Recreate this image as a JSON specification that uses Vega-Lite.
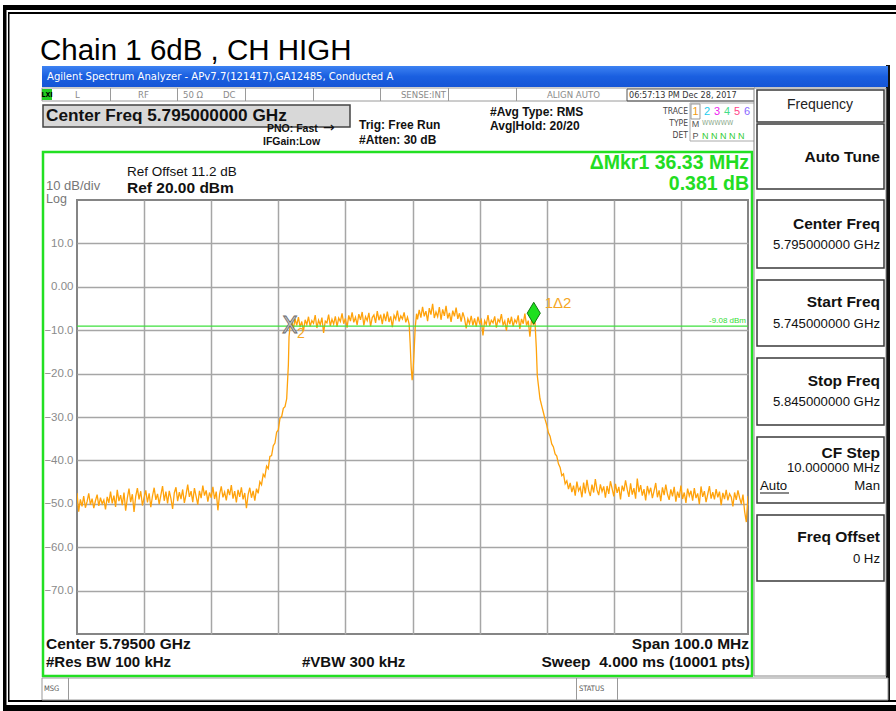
{
"$schema":"https://vega.github.io/schema/vega-lite/v6.json",
"width":671,"height":434,
"autosize":{"type":"none"},
"padding":{"left":77,"top":200,"right":148,"bottom":77},
"background":"white",
"config":{"view":{"stroke":"#858585","strokeWidth":2},"font":"Liberation Sans"},
"datasets":{
"one":[{}],
"ref":[{"a":-9.08}],
"markers":[{"id":"2","f":5776.74,"a":-9.0},{"id":"1","f":5813.07,"a":-8.62}],
"trace":[
{"f":5745,"a":-47.5},{"f":5745.25,"a":-51.8},{"f":5745.5,"a":-49.0},{"f":5745.75,"a":-50.6},{"f":5746,"a":-48.2},{"f":5746.25,"a":-50.9},{"f":5746.5,"a":-49.5},{"f":5746.75,"a":-47.6},{"f":5747,"a":-50.2},{"f":5747.25,"a":-48.8},{"f":5747.5,"a":-51.0},{"f":5747.75,"a":-49.3},{"f":5748,"a":-47.9},{"f":5748.25,"a":-50.5},{"f":5748.5,"a":-48.6},{"f":5748.75,"a":-50.0},{"f":5749,"a":-49.1},{"f":5749.25,"a":-51.3},{"f":5749.5,"a":-48.4},{"f":5749.75,"a":-49.8},{"f":5750,"a":-47.2},{"f":5750.25,"a":-49.9},{"f":5750.5,"a":-48.1},{"f":5750.75,"a":-50.7},{"f":5751,"a":-46.8},{"f":5751.25,"a":-49.4},{"f":5751.5,"a":-48.0},{"f":5751.75,"a":-50.3},{"f":5752,"a":-47.4},{"f":5752.25,"a":-51.6},{"f":5752.5,"a":-48.7},{"f":5752.75,"a":-46.5},{"f":5753,"a":-49.6},{"f":5753.25,"a":-47.8},{"f":5753.5,"a":-51.9},{"f":5753.75,"a":-48.3},{"f":5754,"a":-46.4},{"f":5754.25,"a":-49.0},{"f":5754.5,"a":-47.1},{"f":5754.75,"a":-50.4},{"f":5755,"a":-48.5},{"f":5755.25,"a":-46.9},{"f":5755.5,"a":-49.7},{"f":5755.75,"a":-47.6},{"f":5756,"a":-50.8},{"f":5756.25,"a":-48.2},{"f":5756.5,"a":-46.3},{"f":5756.75,"a":-49.1},{"f":5757,"a":-47.7},{"f":5757.25,"a":-50.1},{"f":5757.5,"a":-48.0},{"f":5757.75,"a":-45.9},{"f":5758,"a":-49.3},{"f":5758.25,"a":-47.2},{"f":5758.5,"a":-49.9},{"f":5758.75,"a":-47.0},{"f":5759,"a":-48.8},{"f":5759.25,"a":-51.2},{"f":5759.5,"a":-47.5},{"f":5759.75,"a":-46.2},{"f":5760,"a":-49.4},{"f":5760.25,"a":-47.3},{"f":5760.5,"a":-48.9},{"f":5760.75,"a":-46.7},{"f":5761,"a":-49.8},{"f":5761.25,"a":-47.9},{"f":5761.5,"a":-45.6},{"f":5761.75,"a":-48.4},{"f":5762,"a":-47.1},{"f":5762.25,"a":-49.6},{"f":5762.5,"a":-46.4},{"f":5762.75,"a":-48.3},{"f":5763,"a":-50.2},{"f":5763.25,"a":-47.0},{"f":5763.5,"a":-48.7},{"f":5763.75,"a":-45.8},{"f":5764,"a":-48.1},{"f":5764.25,"a":-46.9},{"f":5764.5,"a":-49.5},{"f":5764.75,"a":-47.4},{"f":5765,"a":-48.6},{"f":5765.25,"a":-46.1},{"f":5765.5,"a":-48.9},{"f":5765.75,"a":-47.2},{"f":5766,"a":-51.5},{"f":5766.25,"a":-47.8},{"f":5766.5,"a":-46.0},{"f":5766.75,"a":-48.5},{"f":5767,"a":-47.3},{"f":5767.25,"a":-49.2},{"f":5767.5,"a":-46.6},{"f":5767.75,"a":-48.0},{"f":5768,"a":-45.7},{"f":5768.25,"a":-48.8},{"f":5768.5,"a":-47.1},{"f":5768.75,"a":-49.7},{"f":5769,"a":-46.8},{"f":5769.25,"a":-48.4},{"f":5769.5,"a":-46.2},{"f":5769.75,"a":-49.0},{"f":5770,"a":-47.5},{"f":5770.25,"a":-51.0},{"f":5770.5,"a":-47.9},{"f":5770.75,"a":-46.3},{"f":5771,"a":-48.6},{"f":5771.25,"a":-47.0},{"f":5771.5,"a":-49.3},{"f":5771.75,"a":-46.5},{"f":5772,"a":-47.6},{"f":5772.25,"a":-44.9},{"f":5772.5,"a":-45.6},{"f":5772.75,"a":-43.2},{"f":5773,"a":-43.8},{"f":5773.25,"a":-41.3},{"f":5773.5,"a":-41.9},{"f":5773.75,"a":-39.1},{"f":5774,"a":-38.9},{"f":5774.25,"a":-36.6},{"f":5774.5,"a":-36.0},{"f":5774.75,"a":-33.5},{"f":5775,"a":-33.0},{"f":5775.25,"a":-30.3},{"f":5775.5,"a":-29.9},{"f":5775.75,"a":-28.0},{"f":5776,"a":-27.6},{"f":5776.25,"a":-25.8},{"f":5776.5,"a":-18.0},{"f":5776.6,"a":-11.5},{"f":5776.75,"a":-9.2},
{"f":5777,"a":-8.1},{"f":5777.25,"a":-9.6},{"f":5777.5,"a":-7.4},{"f":5777.75,"a":-8.9},{"f":5778,"a":-7.0},{"f":5778.25,"a":-9.3},{"f":5778.5,"a":-8.0},{"f":5778.75,"a":-10.2},{"f":5779,"a":-7.6},{"f":5779.25,"a":-8.7},{"f":5779.5,"a":-6.9},{"f":5779.75,"a":-9.1},{"f":5780,"a":-7.8},{"f":5780.25,"a":-8.4},{"f":5780.5,"a":-6.5},{"f":5780.75,"a":-9.5},{"f":5781,"a":-7.7},{"f":5781.25,"a":-8.8},{"f":5781.5,"a":-7.1},{"f":5781.75,"a":-10.6},{"f":5782,"a":-7.9},{"f":5782.25,"a":-8.3},{"f":5782.5,"a":-6.4},{"f":5782.75,"a":-9.0},{"f":5783,"a":-7.5},{"f":5783.25,"a":-8.6},{"f":5783.5,"a":-6.8},{"f":5783.75,"a":-9.2},{"f":5784,"a":-7.2},{"f":5784.25,"a":-8.0},{"f":5784.5,"a":-6.1},{"f":5784.75,"a":-8.5},{"f":5785,"a":-7.3},{"f":5785.25,"a":-9.4},{"f":5785.5,"a":-6.6},{"f":5785.75,"a":-7.9},{"f":5786,"a":-5.9},{"f":5786.25,"a":-8.2},{"f":5786.5,"a":-7.0},{"f":5786.75,"a":-8.8},{"f":5787,"a":-6.3},{"f":5787.25,"a":-7.6},{"f":5787.5,"a":-5.8},{"f":5787.75,"a":-8.9},{"f":5788,"a":-6.9},{"f":5788.25,"a":-7.8},{"f":5788.5,"a":-6.0},{"f":5788.75,"a":-9.1},{"f":5789,"a":-7.1},{"f":5789.25,"a":-6.5},{"f":5789.5,"a":-8.3},{"f":5789.75,"a":-5.6},{"f":5790,"a":-7.7},{"f":5790.25,"a":-6.4},{"f":5790.5,"a":-8.6},{"f":5790.75,"a":-6.2},{"f":5791,"a":-7.9},{"f":5791.25,"a":-5.7},{"f":5791.5,"a":-8.1},{"f":5791.75,"a":-6.8},{"f":5792,"a":-9.3},{"f":5792.25,"a":-6.6},{"f":5792.5,"a":-7.5},{"f":5792.75,"a":-5.5},{"f":5793,"a":-8.0},{"f":5793.25,"a":-6.7},{"f":5793.5,"a":-7.4},{"f":5793.75,"a":-5.9},{"f":5794,"a":-8.2},{"f":5794.25,"a":-7.0},{"f":5794.5,"a":-8.6},{"f":5794.65,"a":-13.0},{"f":5794.8,"a":-18.5},{"f":5794.95,"a":-21.5},{"f":5795.1,"a":-19.0},{"f":5795.25,"a":-14.5},{"f":5795.4,"a":-9.5},{"f":5795.6,"a":-6.2},{"f":5795.75,"a":-7.5},{"f":5796,"a":-5.3},{"f":5796.25,"a":-7.1},{"f":5796.5,"a":-4.6},{"f":5796.75,"a":-6.8},{"f":5797,"a":-5.6},{"f":5797.25,"a":-7.9},{"f":5797.5,"a":-4.9},{"f":5797.75,"a":-6.4},{"f":5798,"a":-3.9},{"f":5798.25,"a":-7.2},{"f":5798.5,"a":-5.8},{"f":5798.75,"a":-6.9},{"f":5799,"a":-4.7},{"f":5799.25,"a":-7.6},{"f":5799.5,"a":-5.2},{"f":5799.75,"a":-6.7},{"f":5800,"a":-4.4},{"f":5800.25,"a":-7.3},{"f":5800.5,"a":-6.0},{"f":5800.75,"a":-8.1},{"f":5801,"a":-5.5},{"f":5801.25,"a":-6.8},{"f":5801.5,"a":-4.8},{"f":5801.75,"a":-7.4},{"f":5802,"a":-6.1},{"f":5802.25,"a":-8.0},{"f":5802.5,"a":-5.9},{"f":5802.75,"a":-7.2},{"f":5803,"a":-9.6},{"f":5803.25,"a":-7.4},{"f":5803.5,"a":-8.5},{"f":5803.75,"a":-6.7},{"f":5804,"a":-8.9},{"f":5804.25,"a":-7.3},{"f":5804.5,"a":-9.2},{"f":5804.75,"a":-6.9},{"f":5805,"a":-8.4},{"f":5805.25,"a":-7.6},{"f":5805.5,"a":-11.2},{"f":5805.75,"a":-7.8},{"f":5806,"a":-8.7},{"f":5806.25,"a":-6.5},{"f":5806.5,"a":-9.0},{"f":5806.75,"a":-7.7},{"f":5807,"a":-8.3},{"f":5807.25,"a":-6.8},{"f":5807.5,"a":-9.4},{"f":5807.75,"a":-7.5},{"f":5808,"a":-8.1},{"f":5808.25,"a":-6.3},{"f":5808.5,"a":-8.8},{"f":5808.75,"a":-7.9},{"f":5809,"a":-10.1},{"f":5809.25,"a":-7.2},{"f":5809.5,"a":-8.6},{"f":5809.75,"a":-6.9},{"f":5810,"a":-9.1},{"f":5810.25,"a":-7.6},{"f":5810.5,"a":-8.3},{"f":5810.75,"a":-6.6},{"f":5811,"a":-9.7},{"f":5811.25,"a":-7.4},{"f":5811.5,"a":-8.5},{"f":5811.75,"a":-6.2},{"f":5812,"a":-8.9},{"f":5812.25,"a":-7.8},{"f":5812.5,"a":-11.5},{"f":5812.75,"a":-7.3},{"f":5813,"a":-8.7},{"f":5813.25,"a":-8.0},{"f":5813.45,"a":-14.0},{"f":5813.6,"a":-20.5},{"f":5813.75,"a":-22.5},{"f":5814,"a":-25.8},{"f":5814.25,"a":-27.4},{"f":5814.5,"a":-28.9},{"f":5814.75,"a":-30.5},{"f":5815,"a":-31.8},{"f":5815.25,"a":-33.6},{"f":5815.5,"a":-34.4},{"f":5815.75,"a":-36.2},{"f":5816,"a":-36.9},{"f":5816.25,"a":-38.5},{"f":5816.5,"a":-39.0},{"f":5816.75,"a":-40.8},{"f":5817,"a":-41.6},{"f":5817.25,"a":-43.5},{"f":5817.5,"a":-43.1},{"f":5817.75,"a":-45.4},{"f":5818,"a":-44.7},{"f":5818.25,"a":-46.6},{"f":5818.5,"a":-45.2},{"f":5818.75,"a":-47.3},
{"f":5819,"a":-45.8},{"f":5819.25,"a":-48.1},{"f":5819.5,"a":-44.9},{"f":5819.75,"a":-47.0},{"f":5820,"a":-46.2},{"f":5820.25,"a":-48.5},{"f":5820.5,"a":-45.1},{"f":5820.75,"a":-47.6},{"f":5821,"a":-44.5},{"f":5821.25,"a":-46.9},{"f":5821.5,"a":-48.2},{"f":5821.75,"a":-45.6},{"f":5822,"a":-47.4},{"f":5822.25,"a":-44.3},{"f":5822.5,"a":-46.8},{"f":5822.75,"a":-48.0},{"f":5823,"a":-45.5},{"f":5823.25,"a":-47.2},{"f":5823.5,"a":-46.0},{"f":5823.75,"a":-48.6},{"f":5824,"a":-45.9},{"f":5824.25,"a":-47.7},{"f":5824.5,"a":-44.8},{"f":5824.75,"a":-46.5},{"f":5825,"a":-48.3},{"f":5825.25,"a":-45.4},{"f":5825.5,"a":-47.5},{"f":5825.75,"a":-46.1},{"f":5826,"a":-49.0},{"f":5826.25,"a":-45.8},{"f":5826.5,"a":-47.1},{"f":5826.75,"a":-44.6},{"f":5827,"a":-46.7},{"f":5827.25,"a":-48.4},{"f":5827.5,"a":-45.3},{"f":5827.75,"a":-47.9},{"f":5828,"a":-46.4},{"f":5828.25,"a":-48.8},{"f":5828.5,"a":-44.2},{"f":5828.75,"a":-47.3},{"f":5829,"a":-45.7},{"f":5829.25,"a":-48.1},{"f":5829.5,"a":-46.6},{"f":5829.75,"a":-49.2},{"f":5830,"a":-45.9},{"f":5830.25,"a":-47.6},{"f":5830.5,"a":-46.3},{"f":5830.75,"a":-48.7},{"f":5831,"a":-47.0},{"f":5831.25,"a":-45.2},{"f":5831.5,"a":-48.5},{"f":5831.75,"a":-46.9},{"f":5832,"a":-49.4},{"f":5832.25,"a":-46.2},{"f":5832.5,"a":-48.0},{"f":5832.75,"a":-45.6},{"f":5833,"a":-47.8},{"f":5833.25,"a":-49.1},{"f":5833.5,"a":-46.7},{"f":5833.75,"a":-48.3},{"f":5834,"a":-46.1},{"f":5834.25,"a":-49.5},{"f":5834.5,"a":-47.2},{"f":5834.75,"a":-48.6},{"f":5835,"a":-45.8},{"f":5835.25,"a":-48.9},{"f":5835.5,"a":-47.4},{"f":5835.75,"a":-49.8},{"f":5836,"a":-46.5},{"f":5836.25,"a":-48.2},{"f":5836.5,"a":-47.0},{"f":5836.75,"a":-49.3},{"f":5837,"a":-46.4},{"f":5837.25,"a":-48.7},{"f":5837.5,"a":-47.6},{"f":5837.75,"a":-50.1},{"f":5838,"a":-46.0},{"f":5838.25,"a":-48.4},{"f":5838.5,"a":-47.1},{"f":5838.75,"a":-49.6},{"f":5839,"a":-47.8},{"f":5839.25,"a":-45.9},{"f":5839.5,"a":-48.8},{"f":5839.75,"a":-47.3},{"f":5840,"a":-49.0},{"f":5840.25,"a":-46.6},{"f":5840.5,"a":-48.5},{"f":5840.75,"a":-47.2},{"f":5841,"a":-50.3},{"f":5841.25,"a":-47.5},{"f":5841.5,"a":-48.9},{"f":5841.75,"a":-46.8},{"f":5842,"a":-49.2},{"f":5842.25,"a":-47.7},{"f":5842.5,"a":-48.4},{"f":5842.75,"a":-50.6},{"f":5843,"a":-47.4},{"f":5843.25,"a":-49.1},{"f":5843.5,"a":-46.9},{"f":5843.75,"a":-48.6},{"f":5844,"a":-50.0},{"f":5844.25,"a":-47.9},{"f":5844.5,"a":-51.8},{"f":5844.75,"a":-54.2},{"f":5845,"a":-48.2}
]},
"layer":[
{"data":{"name":"one"},"mark":{"type":"rect","x":-74,"x2":819,"y":-195,"y2":-190,"fill":"#000"},"encoding":{}},
{"data":{"name":"one"},"mark":{"type":"rect","x":-69,"x2":819,"y":-188,"y2":-186,"fill":"#000"},"encoding":{}},
{"data":{"name":"one"},"mark":{"type":"rect","x":-74,"x2":-70.5,"y":-195,"y2":511,"fill":"#000"},"encoding":{}},
{"data":{"name":"one"},"mark":{"type":"rect","x":-69,"x2":-67.5,"y":-188,"y2":502,"fill":"#000"},"encoding":{}},
{"data":{"name":"one"},"mark":{"type":"rect","x":809,"x2":813,"y":-135,"y2":502,"fill":"#111"},"encoding":{}},
{"data":{"name":"one"},"mark":{"type":"rect","x":-69,"x2":819,"y":500,"y2":502,"fill":"#000"},"encoding":{}},
{"data":{"name":"one"},"mark":{"type":"rect","x":-74,"x2":819,"y":505,"y2":511,"fill":"#000"},"encoding":{}},
{"data":{"name":"one"},"mark":{"type":"text","text":"Chain 1 6dB , CH HIGH","x":-37,"y":-140,"align":"left","baseline":"alphabetic","fontSize":29.5,"font":"Liberation Sans","color":"#000"}},
{"data":{"name":"one"},"mark":{"type":"rect","x":-35,"x2":811,"y":-134,"y2":-113,"fill":{"gradient":"linear","x1":0,"y1":0,"x2":0,"y2":1,"stops":[{"offset":0,"color":"#3d82f2"},{"offset":0.5,"color":"#1a5fe0"},{"offset":1,"color":"#1555d6"}]}},"encoding":{}},
{"data":{"name":"one"},"mark":{"type":"text","text":"Agilent Spectrum Analyzer - APv7.7(121417),GA12485, Conducted A","x":-30,"y":-123,"align":"left","baseline":"middle","fontSize":11.2,"font":"DejaVu Sans Condensed","color":"#ffffff"}},
{"data":{"name":"one"},"mark":{"type":"rect","x":-35,"x2":678,"y":-112,"y2":-99,"fill":"#ffffff","stroke":"#9a9a9a","strokeWidth":1},"encoding":{}},
{"data":{"name":"one"},"mark":{"type":"rect","x":33,"x2":34,"y":-112,"y2":-99,"fill":"#9a9a9a"},"encoding":{}},
{"data":{"name":"one"},"mark":{"type":"rect","x":100,"x2":101,"y":-112,"y2":-99,"fill":"#9a9a9a"},"encoding":{}},
{"data":{"name":"one"},"mark":{"type":"rect","x":168,"x2":169,"y":-112,"y2":-99,"fill":"#9a9a9a"},"encoding":{}},
{"data":{"name":"one"},"mark":{"type":"rect","x":236,"x2":237,"y":-112,"y2":-99,"fill":"#9a9a9a"},"encoding":{}},
{"data":{"name":"one"},"mark":{"type":"rect","x":303,"x2":304,"y":-112,"y2":-99,"fill":"#9a9a9a"},"encoding":{}},
{"data":{"name":"one"},"mark":{"type":"rect","x":371,"x2":372,"y":-112,"y2":-99,"fill":"#9a9a9a"},"encoding":{}},
{"data":{"name":"one"},"mark":{"type":"rect","x":439,"x2":440,"y":-112,"y2":-99,"fill":"#9a9a9a"},"encoding":{}},
{"data":{"name":"one"},"mark":{"type":"rect","x":550,"x2":678,"y":-111,"y2":-99,"fill":"transparent","stroke":"#555","strokeWidth":1},"encoding":{}},
{"data":{"name":"one"},"mark":{"type":"rect","x":-35,"x2":-25,"y":-111,"y2":-100,"fill":"#22cc22"},"encoding":{}},
{"data":{"name":"one"},"mark":{"type":"text","text":"LXI","x":-30,"y":-105.5,"align":"center","baseline":"middle","fontSize":7,"fontWeight":"bold","font":"DejaVu Sans Condensed","color":"#000"}},
{"data":{"name":"one"},"mark":{"type":"text","text":"L","x":-2,"y":-105,"align":"left","baseline":"middle","fontSize":9.5,"font":"DejaVu Sans Condensed","color":"#8a8a8a"}},
{"data":{"name":"one"},"mark":{"type":"text","text":"RF","x":61,"y":-105,"align":"left","baseline":"middle","fontSize":9.5,"font":"DejaVu Sans Condensed","color":"#8a8a8a"}},
{"data":{"name":"one"},"mark":{"type":"text","text":"50 Ω","x":106,"y":-105,"align":"left","baseline":"middle","fontSize":9.5,"font":"DejaVu Sans Condensed","color":"#8a8a8a"}},
{"data":{"name":"one"},"mark":{"type":"text","text":"DC","x":146,"y":-105,"align":"left","baseline":"middle","fontSize":9.5,"font":"DejaVu Sans Condensed","color":"#8a8a8a"}},
{"data":{"name":"one"},"mark":{"type":"text","text":"SENSE:INT","x":369,"y":-105,"align":"right","baseline":"middle","fontSize":9.5,"font":"DejaVu Sans Condensed","color":"#8a8a8a"}},
{"data":{"name":"one"},"mark":{"type":"text","text":"ALIGN AUTO","x":470,"y":-105,"align":"left","baseline":"middle","fontSize":9.5,"font":"DejaVu Sans Condensed","color":"#8a8a8a"}},
{"data":{"name":"one"},"mark":{"type":"text","text":"06:57:13 PM Dec 28, 2017","x":552,"y":-105,"align":"left","baseline":"middle","fontSize":9,"font":"DejaVu Sans Condensed","color":"#333"}},
{"data":{"name":"one"},"mark":{"type":"rect","x":-34,"x2":273,"y":-95,"y2":-73,"fill":"#d8d8d8","stroke":"#444","strokeWidth":1.5},"encoding":{}},
{"data":{"name":"one"},"mark":{"type":"text","text":"Center Freq 5.795000000 GHz","x":-31,"y":-84,"align":"left","baseline":"middle","fontSize":17.2,"fontWeight":"bold","color":"#111"}},
{"data":{"name":"one"},"mark":{"type":"text","text":"PNO: Fast","x":190,"y":-71,"align":"left","baseline":"middle","fontSize":10.5,"fontWeight":"bold","color":"#111"}},
{"data":{"name":"one"},"mark":{"type":"text","text":"→","x":246,"y":-72,"align":"left","baseline":"middle","fontSize":14,"font":"DejaVu Sans","color":"#111"}},
{"data":{"name":"one"},"mark":{"type":"text","text":"IFGain:Low","x":186,"y":-58,"align":"left","baseline":"middle","fontSize":10.5,"fontWeight":"bold","color":"#111"}},
{"data":{"name":"one"},"mark":{"type":"text","text":"Trig: Free Run","x":282,"y":-75,"align":"left","baseline":"middle","fontSize":12,"fontWeight":"bold","color":"#111"}},
{"data":{"name":"one"},"mark":{"type":"text","text":"#Atten: 30 dB","x":282,"y":-60,"align":"left","baseline":"middle","fontSize":12,"fontWeight":"bold","color":"#111"}},
{"data":{"name":"one"},"mark":{"type":"text","text":"#Avg Type: RMS","x":413,"y":-88,"align":"left","baseline":"middle","fontSize":12,"fontWeight":"bold","color":"#111"}},
{"data":{"name":"one"},"mark":{"type":"text","text":"Avg|Hold: 20/20","x":413,"y":-74,"align":"left","baseline":"middle","fontSize":12,"fontWeight":"bold","color":"#111"}},
{"data":{"name":"one"},"mark":{"type":"text","text":"TRACE","x":611,"y":-89,"align":"right","baseline":"middle","fontSize":8.5,"font":"DejaVu Sans Condensed","color":"#444"}},
{"data":{"name":"one"},"mark":{"type":"text","text":"TYPE","x":611,"y":-77,"align":"right","baseline":"middle","fontSize":8.5,"font":"DejaVu Sans Condensed","color":"#444"}},
{"data":{"name":"one"},"mark":{"type":"text","text":"DET","x":611,"y":-65,"align":"right","baseline":"middle","fontSize":8.5,"font":"DejaVu Sans Condensed","color":"#444"}},
{"data":{"name":"one"},"mark":{"type":"rect","x":613,"x2":678,"y":-97,"y2":-59,"fill":"transparent","stroke":"#aaa","strokeWidth":1},"encoding":{}},
{"data":{"name":"one"},"mark":{"type":"rect","x":614,"x2":623,"y":-96,"y2":-81,"fill":"transparent","stroke":"#999","strokeWidth":1},"encoding":{}},
{"data":{"name":"one"},"mark":{"type":"text","text":"1","x":618.5,"y":-88,"align":"center","baseline":"middle","fontSize":11,"color":"#f39c12"}},
{"data":{"name":"one"},"mark":{"type":"text","text":"2","x":630,"y":-88,"align":"center","baseline":"middle","fontSize":11,"color":"#22ccee"}},
{"data":{"name":"one"},"mark":{"type":"text","text":"3","x":640,"y":-88,"align":"center","baseline":"middle","fontSize":11,"color":"#ee22ee"}},
{"data":{"name":"one"},"mark":{"type":"text","text":"4","x":650,"y":-88,"align":"center","baseline":"middle","fontSize":11,"color":"#44dd88"}},
{"data":{"name":"one"},"mark":{"type":"text","text":"5","x":660,"y":-88,"align":"center","baseline":"middle","fontSize":11,"color":"#ff4488"}},
{"data":{"name":"one"},"mark":{"type":"text","text":"6","x":670,"y":-88,"align":"center","baseline":"middle","fontSize":11,"color":"#8866ff"}},
{"data":{"name":"one"},"mark":{"type":"text","text":"M","x":618.5,"y":-76,"align":"center","baseline":"middle","fontSize":9,"color":"#555"}},
{"data":{"name":"one"},"mark":{"type":"text","text":"WWWWW","x":625,"y":-77,"align":"left","baseline":"middle","fontSize":7,"font":"DejaVu Sans Condensed","color":"#8aa88a"}},
{"data":{"name":"one"},"mark":{"type":"text","text":"P","x":618.5,"y":-64,"align":"center","baseline":"middle","fontSize":9,"color":"#555"}},
{"data":{"name":"one"},"mark":{"type":"text","text":"N N N N N","x":625,"y":-64,"align":"left","baseline":"middle","fontSize":9,"color":"#33cc33"}},
{"data":{"name":"one"},"mark":{"type":"rect","x":-34,"x2":675,"y":-48,"y2":476,"fill":"transparent","stroke":"#22e022","strokeWidth":2.5},"encoding":{}},
{"data":{"name":"one"},"mark":{"type":"text","text":"10 dB/div","x":-31,"y":-14,"align":"left","baseline":"middle","fontSize":13,"color":"#777"}},
{"data":{"name":"one"},"mark":{"type":"text","text":"Log","x":-31,"y":-1.5,"align":"left","baseline":"middle","fontSize":12.5,"color":"#777"}},
{"data":{"name":"one"},"mark":{"type":"text","text":"Ref Offset 11.2 dB","x":50,"y":-28,"align":"left","baseline":"middle","fontSize":13.5,"color":"#111"}},
{"data":{"name":"one"},"mark":{"type":"text","text":"Ref 20.00 dBm","x":50,"y":-12.5,"align":"left","baseline":"middle","fontSize":15.5,"fontWeight":"bold","color":"#111"}},
{"data":{"name":"one"},"mark":{"type":"text","text":"ΔMkr1 36.33 MHz","x":672,"y":-37,"align":"right","baseline":"middle","fontSize":19.5,"fontWeight":"bold","color":"#22dd22"}},
{"data":{"name":"one"},"mark":{"type":"text","text":"0.381 dB","x":672,"y":-16,"align":"right","baseline":"middle","fontSize":19.5,"fontWeight":"bold","color":"#22dd22"}},
{"data":{"name":"one"},"mark":{"type":"text","text":"Center 5.79500 GHz","x":-31,"y":444,"align":"left","baseline":"middle","fontSize":15.5,"fontWeight":"bold","color":"#111"}},
{"data":{"name":"one"},"mark":{"type":"text","text":"Span 100.0 MHz","x":672,"y":444,"align":"right","baseline":"middle","fontSize":15.5,"fontWeight":"bold","color":"#111"}},
{"data":{"name":"one"},"mark":{"type":"text","text":"#Res BW 100 kHz","x":-31,"y":462,"align":"left","baseline":"middle","fontSize":15,"fontWeight":"bold","color":"#111"}},
{"data":{"name":"one"},"mark":{"type":"text","text":"#VBW 300 kHz","x":225,"y":462,"align":"left","baseline":"middle","fontSize":15,"fontWeight":"bold","color":"#111"}},
{"data":{"name":"one"},"mark":{"type":"text","text":"Sweep\u00a0 4.000 ms (10001 pts)","x":673,"y":462,"align":"right","baseline":"middle","fontSize":15.5,"fontWeight":"bold","color":"#111"}},
{"data":{"name":"one"},"mark":{"type":"rect","x":-35,"x2":811,"y":478,"y2":500,"fill":"#ffffff","stroke":"#999","strokeWidth":1},"encoding":{}},
{"data":{"name":"one"},"mark":{"type":"rect","x":-9,"x2":-8,"y":478,"y2":500,"fill":"#999"},"encoding":{}},
{"data":{"name":"one"},"mark":{"type":"rect","x":499,"x2":500,"y":478,"y2":500,"fill":"#999"},"encoding":{}},
{"data":{"name":"one"},"mark":{"type":"rect","x":540,"x2":541,"y":478,"y2":500,"fill":"#999"},"encoding":{}},
{"data":{"name":"one"},"mark":{"type":"text","text":"MSG","x":-33,"y":489,"align":"left","baseline":"middle","fontSize":7.5,"font":"DejaVu Sans Condensed","color":"#555"}},
{"data":{"name":"one"},"mark":{"type":"text","text":"STATUS","x":502,"y":489,"align":"left","baseline":"middle","fontSize":7.5,"font":"DejaVu Sans Condensed","color":"#555"}},
{"data":{"name":"one"},"mark":{"type":"rect","x":677,"x2":809,"y":-112,"y2":476,"fill":"#ffffff","stroke":"#888","strokeWidth":1},"encoding":{}},
{"data":{"name":"one"},"mark":{"type":"rect","x":680,"x2":807,"y":-110,"y2":-78,"fill":"#ffffff","stroke":"#3a3a3a","strokeWidth":1.5},"encoding":{}},
{"data":{"name":"one"},"mark":{"type":"rect","x":680,"x2":807,"y":-76,"y2":-11,"fill":"#ffffff","stroke":"#3a3a3a","strokeWidth":1.5},"encoding":{}},
{"data":{"name":"one"},"mark":{"type":"rect","x":680,"x2":807,"y":0,"y2":68,"fill":"#ffffff","stroke":"#3a3a3a","strokeWidth":1.5},"encoding":{}},
{"data":{"name":"one"},"mark":{"type":"rect","x":680,"x2":807,"y":80,"y2":146,"fill":"#ffffff","stroke":"#3a3a3a","strokeWidth":1.5},"encoding":{}},
{"data":{"name":"one"},"mark":{"type":"rect","x":680,"x2":807,"y":158,"y2":225,"fill":"#ffffff","stroke":"#3a3a3a","strokeWidth":1.5},"encoding":{}},
{"data":{"name":"one"},"mark":{"type":"rect","x":680,"x2":807,"y":237,"y2":303,"fill":"#ffffff","stroke":"#3a3a3a","strokeWidth":1.5},"encoding":{}},
{"data":{"name":"one"},"mark":{"type":"rect","x":680,"x2":807,"y":315,"y2":381,"fill":"#ffffff","stroke":"#3a3a3a","strokeWidth":1.5},"encoding":{}},
{"data":{"name":"one"},"mark":{"type":"text","text":"Frequency","x":743,"y":-95,"align":"center","baseline":"middle","fontSize":14,"color":"#222"}},
{"data":{"name":"one"},"mark":{"type":"text","text":"Auto Tune","x":803,"y":-43,"align":"right","baseline":"middle","fontSize":15.5,"fontWeight":"bold","color":"#111"}},
{"data":{"name":"one"},"mark":{"type":"text","text":"Center Freq","x":803,"y":24,"align":"right","baseline":"middle","fontSize":15.5,"fontWeight":"bold","color":"#111"}},
{"data":{"name":"one"},"mark":{"type":"text","text":"5.795000000 GHz","x":803,"y":45,"align":"right","baseline":"middle","fontSize":13.2,"color":"#111"}},
{"data":{"name":"one"},"mark":{"type":"text","text":"Start Freq","x":803,"y":102,"align":"right","baseline":"middle","fontSize":15.5,"fontWeight":"bold","color":"#111"}},
{"data":{"name":"one"},"mark":{"type":"text","text":"5.745000000 GHz","x":803,"y":124,"align":"right","baseline":"middle","fontSize":13.2,"color":"#111"}},
{"data":{"name":"one"},"mark":{"type":"text","text":"Stop Freq","x":803,"y":181,"align":"right","baseline":"middle","fontSize":15.5,"fontWeight":"bold","color":"#111"}},
{"data":{"name":"one"},"mark":{"type":"text","text":"5.845000000 GHz","x":803,"y":202,"align":"right","baseline":"middle","fontSize":13.2,"color":"#111"}},
{"data":{"name":"one"},"mark":{"type":"text","text":"CF Step","x":803,"y":253,"align":"right","baseline":"middle","fontSize":15.5,"fontWeight":"bold","color":"#111"}},
{"data":{"name":"one"},"mark":{"type":"text","text":"10.000000 MHz","x":803,"y":268,"align":"right","baseline":"middle","fontSize":13.2,"color":"#111"}},
{"data":{"name":"one"},"mark":{"type":"text","text":"Auto","x":683,"y":286,"align":"left","baseline":"middle","fontSize":13.2,"color":"#111"}},
{"data":{"name":"one"},"mark":{"type":"rect","x":683,"x2":712,"y":292.5,"y2":293.5,"fill":"#111"},"encoding":{}},
{"data":{"name":"one"},"mark":{"type":"text","text":"Man","x":803,"y":286,"align":"right","baseline":"middle","fontSize":13.2,"color":"#111"}},
{"data":{"name":"one"},"mark":{"type":"text","text":"Freq Offset","x":803,"y":337,"align":"right","baseline":"middle","fontSize":15.5,"fontWeight":"bold","color":"#111"}},
{"data":{"name":"one"},"mark":{"type":"text","text":"0 Hz","x":803,"y":359,"align":"right","baseline":"middle","fontSize":13.2,"color":"#111"}},
{"data":{"name":"trace"},"mark":{"type":"line","color":"#ffa20a","strokeWidth":1.3,"clip":true},
 "encoding":{
  "x":{"field":"f","type":"quantitative","scale":{"domain":[5745,5845],"nice":false,"zero":false},
       "axis":{"values":[5755,5765,5775,5785,5795,5805,5815,5825,5835],"grid":true,"gridColor":"#a6a6a6","gridWidth":1.5,"labels":false,"ticks":false,"domain":false,"title":null}},
  "y":{"field":"a","type":"quantitative","scale":{"domain":[-80,20],"nice":false,"zero":false},
       "axis":{"values":[-70,-60,-50,-40,-30,-20,-10,0,10],"grid":true,"gridColor":"#a6a6a6","gridWidth":1.5,"ticks":false,"domain":false,"title":null,"labelExpr":"datum.value == 0 ? '0.00' : format(datum.value, '.1f')","labelColor":"#8a8a8a","labelFontSize":11.5,"labelFont":"Liberation Sans","labelPadding":4}}
 }},
{"data":{"name":"ref"},"mark":{"type":"rule","color":"#3ee03e","strokeWidth":1.2},"encoding":{"y":{"field":"a","type":"quantitative"}}},
{"data":{"name":"ref"},"mark":{"type":"text","text":"-9.08 dBm","align":"right","baseline":"bottom","dx":-2,"dy":-1,"fontSize":8,"color":"#33dd33"},"encoding":{"x":{"datum":5845,"type":"quantitative"},"y":{"field":"a","type":"quantitative"}}},
{"data":{"name":"markers"},"transform":[{"filter":"datum.id == '2'"}],"mark":{"type":"text","text":"X","fontSize":23,"font":"DejaVu Sans","fill":"#c4c4c4","stroke":"#6a6a6a","strokeWidth":0.8,"align":"center","baseline":"middle"},"encoding":{"x":{"field":"f","type":"quantitative"},"y":{"field":"a","type":"quantitative"}}},
{"data":{"name":"markers"},"transform":[{"filter":"datum.id == '2'"}],"mark":{"type":"text","text":"2","fontSize":14,"color":"#f5a623","dx":11,"dy":8,"align":"center","baseline":"middle"},"encoding":{"x":{"field":"f","type":"quantitative"},"y":{"field":"a","type":"quantitative"}}},
{"data":{"name":"markers"},"transform":[{"filter":"datum.id == '1'"}],"mark":{"type":"point","shape":"M0,-1L0.6,0L0,1L-0.6,0Z","size":480,"filled":true,"fill":"#1ee01e","stroke":"#117711","strokeWidth":1,"opacity":1,"yOffset":-11},"encoding":{"x":{"field":"f","type":"quantitative"},"y":{"field":"a","type":"quantitative"}}},
{"data":{"name":"markers"},"transform":[{"filter":"datum.id == '1'"}],"mark":{"type":"text","text":"1Δ2","fontSize":15,"color":"#f5a623","dx":11,"dy":-21,"align":"left","baseline":"middle"},"encoding":{"x":{"field":"f","type":"quantitative"},"y":{"field":"a","type":"quantitative"}}}
]
}
